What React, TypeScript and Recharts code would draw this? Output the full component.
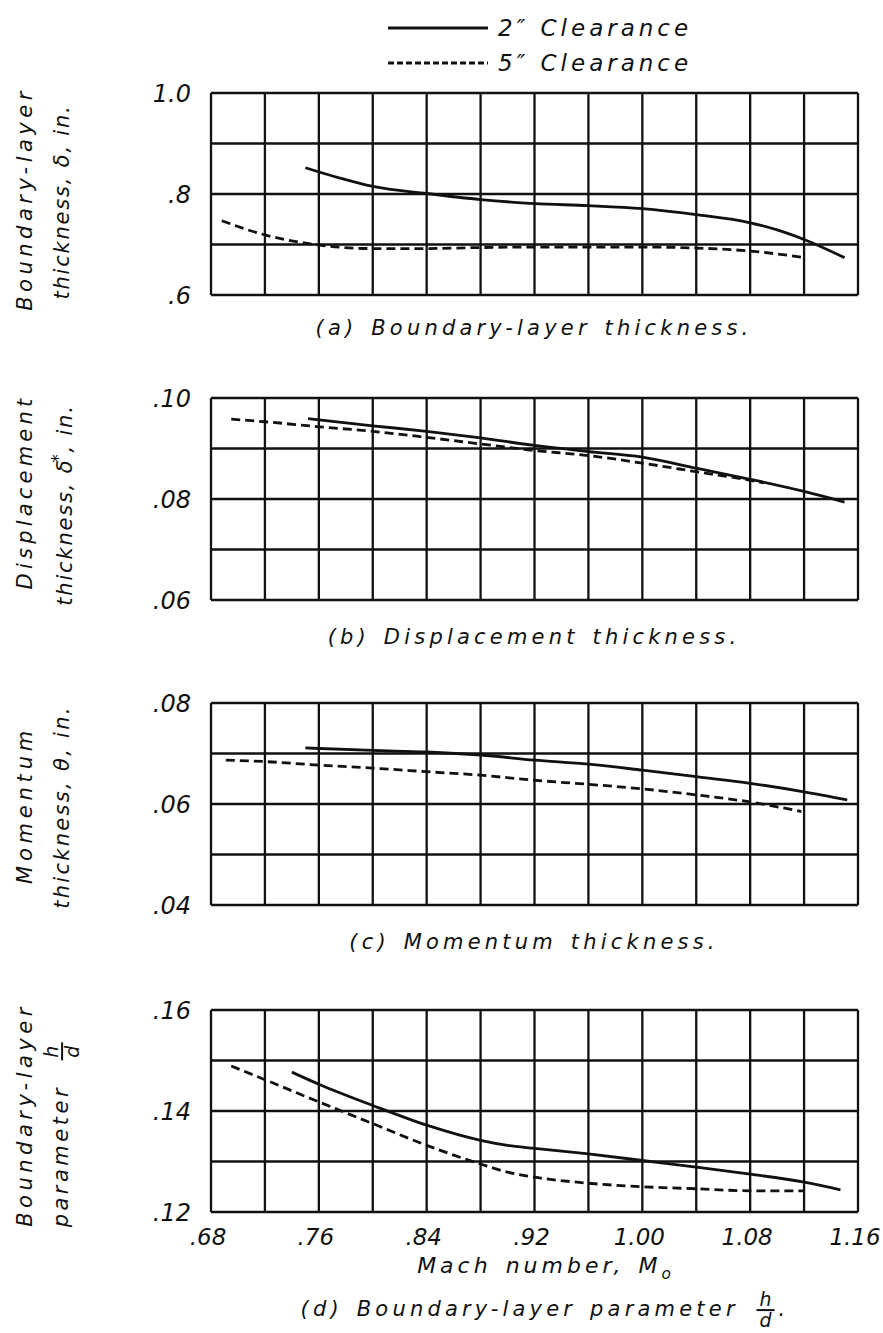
import { CartesianGrid, Legend, Line, LineChart, XAxis, YAxis } from "recharts";

// Mach number grid (every .04), labelled every other line
const machTicks = [0.68, 0.72, 0.76, 0.8, 0.84, 0.88, 0.92, 0.96, 1.0, 1.04, 1.08, 1.12, 1.16];
const machLabels = [".68", "", ".76", "", ".84", "", ".92", "", "1.00", "", "1.08", "", "1.16"];

// (a) boundary-layer thickness
const deltaTicks = [0.6, 0.7, 0.8, 0.9, 1.0];
const deltaLabels = [".6", "", ".8", "", "1.0"];
const deltaMach2 = [0.75, 0.775, 0.8, 0.84, 0.88, 0.92, 0.96, 1.0, 1.04, 1.08, 1.1, 1.12, 1.15];
const delta2 = [0.852, 0.832, 0.815, 0.801, 0.789, 0.781, 0.777, 0.771, 0.759, 0.743, 0.729, 0.71, 0.674];
const deltaMach5 = [0.688, 0.72, 0.76, 0.8, 0.84, 0.88, 0.92, 0.96, 1.0, 1.04, 1.08, 1.118];
const delta5 = [0.747, 0.719, 0.699, 0.692, 0.692, 0.694, 0.695, 0.695, 0.695, 0.693, 0.687, 0.675];

// (b) displacement thickness
const dispTicks = [0.06, 0.07, 0.08, 0.09, 0.1];
const dispLabels = [".06", "", ".08", "", ".10"];
const dispMach2 = [0.752, 0.8, 0.84, 0.88, 0.92, 0.96, 1.0, 1.04, 1.08, 1.12, 1.15];
const disp2 = [0.0959, 0.0945, 0.0934, 0.0921, 0.0906, 0.0894, 0.0883, 0.0861, 0.0839, 0.0815, 0.0794];
const dispMach5 = [0.695, 0.72, 0.76, 0.8, 0.84, 0.88, 0.92, 0.96, 1.0, 1.04, 1.08, 1.09];
const disp5 = [0.0958, 0.0953, 0.0943, 0.0934, 0.0922, 0.0909, 0.0896, 0.0886, 0.0871, 0.0854, 0.0837, 0.0832];

// (c) momentum thickness
const momTicks = [0.04, 0.05, 0.06, 0.07, 0.08];
const momLabels = [".04", "", ".06", "", ".08"];
const momMach2 = [0.75, 0.8, 0.84, 0.88, 0.92, 0.96, 1.0, 1.04, 1.08, 1.12, 1.152];
const mom2 = [0.0711, 0.0706, 0.0703, 0.0697, 0.0687, 0.0679, 0.0667, 0.0654, 0.0641, 0.0624, 0.0608];
const momMach5 = [0.691, 0.72, 0.76, 0.8, 0.84, 0.88, 0.92, 0.96, 1.0, 1.04, 1.08, 1.118];
const mom5 = [0.0687, 0.0684, 0.0677, 0.0671, 0.0664, 0.0657, 0.0647, 0.0639, 0.063, 0.0618, 0.0604, 0.0585];

// (d) boundary-layer parameter h/d
const hdTicks = [0.12, 0.13, 0.14, 0.15, 0.16];
const hdLabels = [".12", "", ".14", "", ".16"];
const hdMach2 = [0.74, 0.76, 0.8, 0.84, 0.88, 0.9, 0.92, 0.96, 1.0, 1.04, 1.08, 1.12, 1.147];
const hd2 = [0.1477, 0.1453, 0.1411, 0.1372, 0.1342, 0.1332, 0.1326, 0.1315, 0.1302, 0.1289, 0.1275, 0.1259, 0.1244];
const hdMach5 = [0.695, 0.72, 0.76, 0.8, 0.84, 0.88, 0.9, 0.92, 0.96, 1.0, 1.04, 1.08, 1.12];
const hd5 = [0.1489, 0.1462, 0.1418, 0.1375, 0.1332, 0.1295, 0.1279, 0.1269, 0.1257, 0.125, 0.1246, 0.1242, 0.1242];

const legendItems = [
  { name: "2\u2033 Clearance", dash: "" },
  { name: "5\u2033 Clearance", dash: "6 3" },
];

const FONT = '"DejaVu Sans", sans-serif';
const INK = "#111";
const PLOT_H = 202;

const pts = (xs: number[], ys: number[]) => xs.map((x, i) => ({ x, y: ys[i] }));

const pick = (ticks: number[], labels: string[], v: number) => {
  const i = ticks.findIndex((t) => Math.abs(t - v) < 1e-6);
  return i < 0 ? "" : labels[i];
};

function LegendBox() {
  return (
    <div style={{ fontFamily: FONT, fontStyle: "italic", fontSize: 23, letterSpacing: 4, color: INK }}>
      {legendItems.map((it) => (
        <div key={it.name} style={{ display: "flex", alignItems: "center", height: 35 }}>
          <svg width={110} height={10}>
            <line x1={0} x2={100} y1={5} y2={5} stroke={INK} strokeWidth={2.8} strokeDasharray={it.dash} />
          </svg>
          <span>{it.name}</span>
        </div>
      ))}
    </div>
  );
}

function Panel(props: {
  plotTop: number;
  yTicks: number[];
  yLabels: string[];
  solid: { x: number; y: number }[];
  dashed: { x: number; y: number }[];
  showX?: boolean;
  legend?: boolean;
}) {
  const { plotTop, yTicks, yLabels, solid, dashed, showX, legend } = props;
  const mTop = legend ? plotTop : 20;
  const mBottom = showX ? 0 : 20;
  const xH = showX ? 60 : 1;
  const h = mTop + PLOT_H + xH + mBottom;
  return (
    <div style={{ position: "absolute", left: 0, top: plotTop - mTop }}>
      <LineChart width={883} height={h} margin={{ top: mTop, right: 25, bottom: mBottom, left: 0 }}>
        <CartesianGrid stroke={INK} strokeWidth={2.3} />
        <XAxis
          dataKey="x"
          type="number"
          domain={[0.68, 1.16]}
          ticks={machTicks}
          allowDataOverflow
          axisLine={false}
          tickLine={false}
          tickSize={0}
          tickMargin={0}
          height={xH}
          tick={({ x, y, payload }: any) =>
            showX ? (
              <text x={x - 3} y={y + 33} textAnchor="middle" fontFamily={FONT} fontStyle="italic" fontSize={23} fill={INK}>
                {pick(machTicks, machLabels, payload.value)}
              </text>
            ) : (
              <g />
            )
          }
        />
        <YAxis
          type="number"
          domain={[yTicks[0], yTicks[yTicks.length - 1]]}
          ticks={yTicks}
          allowDataOverflow
          width={211}
          axisLine={false}
          tickLine={false}
          tickSize={0}
          tickMargin={0}
          tick={({ x, y, payload }: any) => (
            <text x={x - 20} y={y + 9} textAnchor="end" fontFamily={FONT} fontStyle="italic" fontSize={24} fill={INK}>
              {pick(yTicks, yLabels, payload.value)}
            </text>
          )}
        />
        {legend && (
          <Legend
            layout="vertical"
            align="center"
            verticalAlign="middle"
            content={() => <LegendBox />}
            wrapperStyle={{ position: "absolute", top: 10, left: 388, width: 360 }}
          />
        )}
        <Line data={solid} dataKey="y" name="2\u2033 Clearance" type="monotone" stroke={INK} strokeWidth={2.8} dot={false} isAnimationActive={false} />
        <Line data={dashed} dataKey="y" name="5\u2033 Clearance" type="monotone" stroke={INK} strokeWidth={2.8} strokeDasharray="9 5" dot={false} isAnimationActive={false} />
      </LineChart>
    </div>
  );
}

const textStyle: React.CSSProperties = {
  position: "absolute",
  fontFamily: FONT,
  fontStyle: "italic",
  color: INK,
  whiteSpace: "nowrap",
};

function VTitle({ x, y, sp = 4.5, children }: { x: number; y: number; sp?: number; children: React.ReactNode }) {
  return (
    <div
      style={{
        ...textStyle,
        left: x,
        top: y,
        fontSize: 21,
        letterSpacing: sp,
        transform: "translate(-50%, -50%) rotate(-90deg)",
      }}
    >
      {children}
    </div>
  );
}

function Caption({ x, y, children, size = 21, sp = 4.2 }: { x: number; y: number; children: React.ReactNode; size?: number; sp?: number }) {
  return (
    <div style={{ ...textStyle, left: x, top: y, fontSize: size, letterSpacing: sp, wordSpacing: 3, transform: "translate(-50%, -50%)" }}>
      {children}
    </div>
  );
}

function Frac({ a, b }: { a: string; b: string }) {
  return (
    <span
      style={{
        display: "inline-flex",
        flexDirection: "column",
        alignItems: "center",
        verticalAlign: "middle",
        fontSize: "0.9em",
        lineHeight: 1,
        letterSpacing: 0,
        margin: "0 4px",
      }}
    >
      <span style={{ borderBottom: `2px solid ${INK}`, padding: "0 3px" }}>{a}</span>
      <span>{b}</span>
    </span>
  );
}

export default function App() {
  return (
    <div style={{ position: "absolute", left: 0, top: 0, width: 883, height: 1333, background: "#fff" }}>
      <Panel plotTop={93} yTicks={deltaTicks} yLabels={deltaLabels} solid={pts(deltaMach2, delta2)} dashed={pts(deltaMach5, delta5)} legend />
      <Panel plotTop={398} yTicks={dispTicks} yLabels={dispLabels} solid={pts(dispMach2, disp2)} dashed={pts(dispMach5, disp5)} />
      <Panel plotTop={703} yTicks={momTicks} yLabels={momLabels} solid={pts(momMach2, mom2)} dashed={pts(momMach5, mom5)} />
      <Panel plotTop={1010} yTicks={hdTicks} yLabels={hdLabels} solid={pts(hdMach2, hd2)} dashed={pts(hdMach5, hd5)} showX />

      <VTitle x={25} y={199}>Boundary-layer</VTitle>
      <VTitle x={62} y={202} sp={1.8}>thickness, δ, in.</VTitle>
      <Caption x={534} y={328}>(a) Boundary-layer thickness.</Caption>

      <VTitle x={25} y={492} sp={4.2}>Displacement</VTitle>
      <VTitle x={62} y={505} sp={1.8}>
        thickness, δ<sup style={{ fontSize: "0.8em", marginLeft: -4 }}>*</sup>, in.
      </VTitle>
      <Caption x={534} y={637}>(b) Displacement thickness.</Caption>

      <VTitle x={25} y={805} sp={4.8}>Momentum</VTitle>
      <VTitle x={62} y={807} sp={2.3}>thickness, θ, in.</VTitle>
      <Caption x={534} y={942}>(c) Momentum thickness.</Caption>

      <VTitle x={25} y={1115}>Boundary-layer</VTitle>
      <VTitle x={62} y={1133} sp={3.5}>
        parameter&nbsp;&nbsp;<Frac a="h" b="d" />
      </VTitle>
      <Caption x={546} y={1268} size={22} sp={4}>
        Mach number, M<sub style={{ fontSize: "0.7em" }}>o</sub>
      </Caption>
      <Caption x={545} y={1310}>
        (d) Boundary-layer parameter <Frac a="h" b="d" />.
      </Caption>
    </div>
  );
}
